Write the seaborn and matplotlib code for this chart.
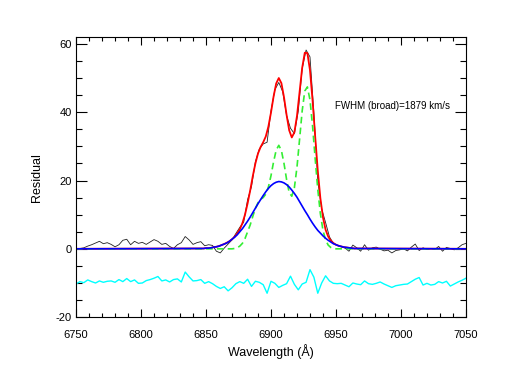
import numpy as np
import pandas as pd
import seaborn as sns
import matplotlib.pyplot as plt
from matplotlib.ticker import MultipleLocator

# observed residual spectrum, sampled every 3 A from 6750 to 7050
wl_obs = np.arange(6750, 7051, 3)
black = [0.0, 0.1, 0.3, 0.8, 1.2, 1.7, 2.2, 1.5, 1.8, 1.3, 0.6, 1.2, 2.5, 2.8, 1.2,
         2.2, 1.6, 1.9, 1.3, 2.0, 2.7, 2.2, 1.3, 1.6, 0.7, 0.1, 1.2, 1.8, 3.6, 2.6,
         1.3, 1.8, 2.1, 0.9, 1.2, 1.0, -0.7, -1.2, 0.2, 1.4, 2.6, 4.5, 6.3, 7.8,
         14.4, 18.2, 25.5, 29.2, 30.7, 31.2, 40.4, 46.6, 48.7, 46.0, 39.0, 35.3, 33.7,
         40.3, 52.7, 58.2, 56.2, 39.9, 19.9, 11.7, 7.7, 3.5, 1.6,
         1.0, 0.6, 0.2, -0.7, 1.1, 0.3, -0.7, 1.2, -0.4, 0.3, 0.5, -0.1, -0.6, -0.4,
         -1.2, -0.5, -0.3, 0.0, -0.6, 0.5, 1.4, -0.5, 0.3, -0.2, 0.1, -0.2, 0.7, -0.7,
         0.4, 0.1, -0.3, 0.3, 1.2, 1.6]
# fit residuals, offset by -10
cyan = [-10.3, -9.6, -9.9, -9.1, -9.6, -10.0, -9.4, -9.8, -9.5, -9.4, -9.8, -9.0, -9.6, -8.7,
        -9.6, -9.1, -10.1, -10.0, -9.3, -9.0, -8.6, -8.1, -9.4, -9.1, -9.7, -9.0, -8.8, -9.7,
        -6.8, -8.2, -9.4, -9.3, -9.0, -10.1, -9.6, -10.2, -11.0, -11.6, -11.1, -12.3, -11.4,
        -10.2, -9.6, -10.1, -8.9, -11.0, -9.5, -9.8, -10.5, -13.0, -9.5, -10.1, -11.3, -10.7,
        -10.2, -8.0, -10.4, -12.0, -10.3, -9.8, -6.1, -8.3, -13.0, -10.0, -7.9, -9.4, -10.1,
        -10.2, -10.1, -10.6, -11.1, -10.0, -10.3, -10.5, -9.4, -10.2, -10.4, -10.1, -9.7,
        -10.3, -10.8, -11.3, -10.8, -10.6, -10.4, -10.3, -9.6, -8.9, -8.4, -10.6, -10.1,
        -10.6, -10.4, -9.6, -10.0, -9.5, -10.9, -10.3, -9.7, -9.2, -8.6]

# model components: 6750, then 6846..6966 every 2 A, then 7050
wl_fit = np.concatenate([[6750], np.arange(6846, 6967, 2), [7050]])
broad = [0.0, 0.1, 0.1, 0.2, 0.2, 0.3, 0.5, 0.6, 0.8, 1.1, 1.4, 1.7, 2.2, 2.8, 3.4, 4.1, 5.0,
         5.9, 7.0, 8.1, 9.3, 10.6, 11.9, 13.2, 14.4, 15.6, 16.7, 17.7, 18.5, 19.1, 19.5, 19.7,
         19.6, 19.3, 18.8, 18.1, 17.2, 16.2, 15.1, 13.8, 12.5, 11.2, 10.0, 8.7, 7.5, 6.4, 5.4,
         4.6, 3.8, 3.1, 2.5, 2.0, 1.5, 1.2, 0.9, 0.7, 0.5, 0.4, 0.3, 0.2, 0.1, 0.1, 0.0]
narrow = [0.0, 0.0, 0.0, 0.0, 0.0, 0.0, 0.0, 0.0, 0.0, 0.0, 0.0, 0.0, 0.0, 0.0, 0.1, 0.3, 0.8,
          1.6, 3.0, 5.0, 7.0, 9.5, 11.8, 13.5, 14.5, 15.0, 16.0, 18.1, 21.4, 25.5, 28.9, 30.3,
          28.8, 25.0, 20.3, 16.5, 15.4, 17.9, 23.9, 32.1, 40.4, 46.2, 47.4, 43.6, 35.9, 26.4,
          17.4, 10.3, 5.4, 2.6, 1.1, 0.4, 0.1, 0.0, 0.0, 0.0, 0.0, 0.0, 0.0, 0.0, 0.0, 0.0, 0.0]
total = [0.0, 0.1, 0.1, 0.2, 0.2, 0.3, 0.5, 0.6, 0.8, 1.1, 1.4, 1.8, 2.2, 2.8, 3.5, 4.5, 5.7,
         7.5, 10.0, 13.3, 17.1, 21.3, 25.0, 27.9, 29.8, 31.2, 32.9, 35.8, 39.9, 44.6, 48.4, 50.0,
         48.5, 44.4, 39.2, 34.7, 32.6, 34.1, 38.9, 45.9, 53.0, 57.4, 57.3, 52.3, 43.4, 32.9,
         22.9, 14.8, 9.2, 5.6, 3.6, 2.4, 1.7, 1.2, 0.9, 0.7, 0.5, 0.4, 0.3, 0.2, 0.1, 0.1, 0.0]

plt.rcParams['font.family'] = ['Liberation Sans', 'DejaVu Sans']
plt.rcParams['axes.unicode_minus'] = False
fig, ax = plt.subplots(figsize=(5.07, 3.74), dpi=100)
fig.subplots_adjust(left=0.150, right=0.919, bottom=0.152, top=0.901)

sns.lineplot(x=wl_obs, y=black, color='#222222', lw=0.6, ax=ax)
sns.lineplot(x=wl_obs, y=cyan, color='#00ffff', lw=1.0, ax=ax)
sns.lineplot(x=wl_fit, y=total, color='#ff0000', lw=1.3, ax=ax)
sns.lineplot(x=wl_fit, y=narrow, color='#33ee33', lw=1.2, ls=(0, (4, 2.5)), ax=ax)
sns.lineplot(x=wl_fit, y=broad, color='#0000ff', lw=1.2, ax=ax)

ax.set_xlim(6750, 7050)
ax.set_ylim(-20, 62)
ax.xaxis.set_major_locator(MultipleLocator(50))
ax.xaxis.set_minor_locator(MultipleLocator(10))
ax.yaxis.set_major_locator(MultipleLocator(20))
ax.yaxis.set_minor_locator(MultipleLocator(5))
ax.tick_params(which='both', direction='in', top=True, right=True, width=0.8, labelsize=8)
ax.xaxis.set_tick_params(which='major', length=6, pad=9.5)
ax.xaxis.set_tick_params(which='minor', length=3)
ax.yaxis.set_tick_params(which='major', length=8, pad=3)
ax.yaxis.set_tick_params(which='minor', length=4)
for s in ax.spines.values():
    s.set_linewidth(0.8)
ax.set_xlabel('Wavelength (Å)', fontsize=9, labelpad=3)
ax.set_ylabel('Residual', fontsize=9, labelpad=9)
ax.text(6949, 41.9, 'FWHM (broad)=1879 km/s', fontsize=7, va='center')

fig.savefig('out.png', dpi=100)
